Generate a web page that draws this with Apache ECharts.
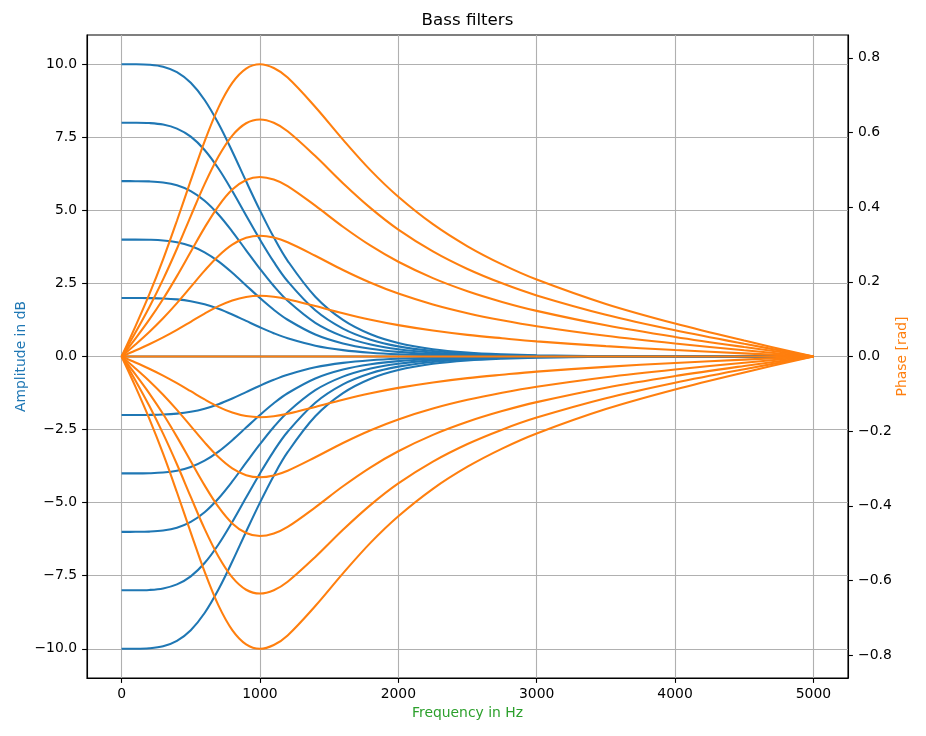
<!DOCTYPE html>
<html><head><meta charset="utf-8">
<script src="https://cdn.jsdelivr.net/npm/echarts@6/dist/echarts.min.js"></script>
<style>html,body{margin:0;padding:0;background:#fff}#c{width:926px;height:736px}</style>
</head><body><div id="c"></div><script>
// Frequency samples (Hz)
const freqHz = [0,100,200,300,400,500,600,700,800,900,1000,1100,1200,1400,1600,1800,2000,2250,2500,2750,3000,3500,4000,4500,5000];
const gains = [10,8,6,4,2,0,-2,-4,-6,-8,-10];

// Amplitude in dB, one array per gain
const ampG10 = [10.0,9.999,9.983,9.913,9.728,9.363,8.775,7.971,7.015,5.994,5.0,4.077,3.275,2.046,1.253,0.760,0.463,0.250,0.135,0.073,0.038,0.009,0.002,0.0,0.0];
const ampG8  = [8.0,7.999,7.987,7.935,7.797,7.521,7.067,6.432,5.660,4.823,4.0,3.236,2.576,1.582,0.955,0.574,0.347,0.187,0.101,0.054,0.028,0.007,0.001,0.0,0.0];
const ampG6  = [6.0,5.999,5.991,5.954,5.856,5.658,5.327,4.857,4.275,3.634,3.0,2.411,1.905,1.153,0.689,0.411,0.247,0.132,0.071,0.038,0.020,0.005,0.001,0.0,0.0];
const ampG4  = [4.0,4.0,3.994,3.971,3.908,3.780,3.565,3.255,2.865,2.432,2.0,1.599,1.257,0.752,0.446,0.265,0.159,0.085,0.046,0.024,0.013,0.003,0.001,0.0,0.0];
const ampG2  = [2.0,2.0,1.997,1.986,1.955,1.892,1.786,1.632,1.437,1.218,1.0,0.797,0.624,0.371,0.219,0.129,0.077,0.041,0.022,0.012,0.006,0.002,0.0,0.0,0.0];
const ampG0  = [0,0,0,0,0,0,0,0,0,0,0,0,0,0,0,0,0,0,0,0,0,0,0,0,0];
const ampGm2 = [-2.0,-2.0,-1.997,-1.986,-1.955,-1.892,-1.786,-1.632,-1.437,-1.218,-1.0,-0.797,-0.624,-0.371,-0.219,-0.129,-0.077,-0.041,-0.022,-0.012,-0.006,-0.002,0.0,0.0,0.0];
const ampGm4 = [-4.0,-4.0,-3.994,-3.971,-3.908,-3.780,-3.565,-3.255,-2.865,-2.432,-2.0,-1.599,-1.257,-0.752,-0.446,-0.265,-0.159,-0.085,-0.046,-0.024,-0.013,-0.003,-0.001,0.0,0.0];
const ampGm6 = [-6.0,-5.999,-5.991,-5.954,-5.856,-5.658,-5.327,-4.857,-4.275,-3.634,-3.0,-2.411,-1.905,-1.153,-0.689,-0.411,-0.247,-0.132,-0.071,-0.038,-0.020,-0.005,-0.001,0.0,0.0];
const ampGm8 = [-8.0,-7.999,-7.987,-7.935,-7.797,-7.521,-7.067,-6.432,-5.660,-4.823,-4.0,-3.236,-2.576,-1.582,-0.955,-0.574,-0.347,-0.187,-0.101,-0.054,-0.028,-0.007,-0.001,0.0,0.0];
const ampGm10= [-10.0,-9.999,-9.983,-9.913,-9.728,-9.363,-8.775,-7.971,-7.015,-5.994,-5.0,-4.077,-3.275,-2.046,-1.253,-0.760,-0.463,-0.250,-0.135,-0.073,-0.038,-0.009,-0.002,0.0,0.0];

// Phase in rad, one array per gain
const phG10 = [0,0.0807,0.1662,0.2602,0.3637,0.4716,0.5765,0.6668,0.7329,0.7711,0.7828,0.7727,0.7471,0.6683,0.5809,0.4986,0.4279,0.3544,0.2952,0.2467,0.2061,0.1407,0.0882,0.0426,0];
const phG8  = [0,0.0642,0.1321,0.2067,0.2887,0.3762,0.4617,0.5357,0.5918,0.6248,0.6350,0.6262,0.6035,0.5370,0.4642,0.3974,0.3399,0.2815,0.2344,0.1960,0.1637,0.1119,0.0702,0.0339,0];
const phG6  = [0,0.0479,0.0986,0.1541,0.2153,0.2805,0.3452,0.4030,0.4471,0.4728,0.4809,0.4740,0.4565,0.4040,0.3476,0.2968,0.2538,0.2099,0.1748,0.1462,0.1222,0.0835,0.0524,0.0253,0];
const phG4  = [0,0.0319,0.0655,0.1024,0.1430,0.1864,0.2300,0.2693,0.2996,0.3178,0.3235,0.3186,0.3061,0.2700,0.2316,0.1974,0.1685,0.1394,0.1161,0.0971,0.0811,0.0555,0.0348,0.0168,0];
const phG2  = [0,0.0159,0.0327,0.0511,0.0713,0.0930,0.1149,0.1348,0.1502,0.1596,0.1626,0.1600,0.1536,0.1351,0.1158,0.0985,0.0841,0.0695,0.0579,0.0488,0.0405,0.0277,0.0174,0.0084,0];
const phG0  = [0,0,0,0,0,0,0,0,0,0,0,0,0,0,0,0,0,0,0,0,0,0,0,0,0];
const phGm2 = [0,-0.0159,-0.0327,-0.0511,-0.0713,-0.0930,-0.1149,-0.1348,-0.1502,-0.1596,-0.1626,-0.1600,-0.1536,-0.1351,-0.1158,-0.0985,-0.0841,-0.0695,-0.0579,-0.0488,-0.0405,-0.0277,-0.0174,-0.0084,0];
const phGm4 = [0,-0.0319,-0.0655,-0.1024,-0.1430,-0.1864,-0.2300,-0.2693,-0.2996,-0.3178,-0.3235,-0.3186,-0.3061,-0.2700,-0.2316,-0.1974,-0.1685,-0.1394,-0.1161,-0.0971,-0.0811,-0.0555,-0.0348,-0.0168,0];
const phGm6 = [0,-0.0479,-0.0986,-0.1541,-0.2153,-0.2805,-0.3452,-0.4030,-0.4471,-0.4728,-0.4809,-0.4740,-0.4565,-0.4040,-0.3476,-0.2968,-0.2538,-0.2099,-0.1748,-0.1462,-0.1222,-0.0835,-0.0524,-0.0253,0];
const phGm8 = [0,-0.0642,-0.1321,-0.2067,-0.2887,-0.3762,-0.4617,-0.5357,-0.5918,-0.6248,-0.6350,-0.6262,-0.6035,-0.5370,-0.4642,-0.3974,-0.3399,-0.2815,-0.2344,-0.1960,-0.1637,-0.1119,-0.0702,-0.0339,0];
const phGm10= [0,-0.0807,-0.1662,-0.2602,-0.3637,-0.4716,-0.5765,-0.6668,-0.7329,-0.7711,-0.7828,-0.7727,-0.7471,-0.6683,-0.5809,-0.4986,-0.4279,-0.3544,-0.2952,-0.2467,-0.2061,-0.1407,-0.0882,-0.0426,0];

// Tick values
const xTicks = [0,1000,2000,3000,4000,5000];
const ampTicks = [-10,-7.5,-5,-2.5,0,2.5,5,7.5,10];
const phaseTicks = [-0.8,-0.6,-0.4,-0.2,0,0.2,0.4,0.6,0.8];

const ampCurves = [ampG10,ampG8,ampG6,ampG4,ampG2,ampG0,ampGm2,ampGm4,ampGm6,ampGm8,ampGm10];
const phaseCurves = [phG10,phG8,phG6,phG4,phG2,phG0,phGm2,phGm4,phGm6,phGm8,phGm10];

const BLUE = '#1f77b4', ORANGE = '#ff7f0e', GREEN = '#2ca02c';
const FONT = 'DejaVu Sans';
const fmt1 = v => (v < 0 ? '\u2212' : '') + Math.abs(v).toFixed(1);
const pairs = arr => freqHz.map((f, i) => [f, arr[i]]);

const series = [];
ampCurves.forEach((c, i) => series.push({
  name: 'Amplitude ' + gains[i] + ' dB', type: 'line', yAxisIndex: 0, data: pairs(c),
  showSymbol: false, smooth: 0.35, lineStyle: { color: BLUE, width: 2.08 }, itemStyle: { color: BLUE },
  silent: true, z: 2
}));
phaseCurves.forEach((c, i) => series.push({
  name: 'Phase ' + gains[i] + ' dB', type: 'line', yAxisIndex: 1, data: pairs(c),
  showSymbol: false, smooth: 0.35, lineStyle: { color: ORANGE, width: 2.08 }, itemStyle: { color: ORANGE },
  silent: true, z: 3
}));

const tickStyle = { color: '#000', width: 1.1 };
const chart = echarts.init(document.getElementById('c'), null, { renderer: 'canvas' });
chart.setOption({
  animation: false,
  backgroundColor: '#fff',
  title: {
    text: 'Bass filters', left: 421.6, top: 12, padding: 0,
    textStyle: { fontFamily: FONT, fontSize: 16.67, fontWeight: 'normal', color: '#000' }
  },
  grid: { left: 87, right: 78, top: 35, bottom: 58, show: true, borderColor: '#000', borderWidth: 1.1, backgroundColor: 'transparent' },
  xAxis: {
    type: 'value', min: -250, max: 5250,
    name: 'Frequency in Hz', nameLocation: 'middle', nameGap: 28,
    nameTextStyle: { color: GREEN, fontFamily: FONT, fontSize: 13.9 },
    axisLine: { show: true, onZero: false, lineStyle: { color: '#000', width: 1.1 } },
    axisTick: { show: true, length: 4.9, lineStyle: tickStyle, customValues: xTicks },
    axisLabel: { color: '#000', fontFamily: FONT, fontSize: 13.9, margin: 9, customValues: xTicks, formatter: v => String(Math.round(v)) },
    splitLine: { show: true, lineStyle: { color: '#b0b0b0', width: 1.1 } }
  },
  yAxis: [{
    type: 'value', min: -11, max: 11, position: 'left',
    name: 'Amplitude in dB', nameLocation: 'middle', nameRotate: 90, nameGap: 59, nameMoveOverlap: false,
    nameTextStyle: { color: BLUE, fontFamily: FONT, fontSize: 13.9 },
    axisLine: { show: true, onZero: false, lineStyle: { color: '#000', width: 1.1 } },
    axisTick: { show: true, length: 4.9, lineStyle: tickStyle, customValues: ampTicks },
    axisLabel: { color: '#000', fontFamily: FONT, fontSize: 13.9, margin: 10, customValues: ampTicks, formatter: fmt1 },
    splitLine: { show: true, lineStyle: { color: '#b0b0b0', width: 1.1 } }
  }, {
    type: 'value', min: -0.8612, max: 0.8612, position: 'right',
    name: 'Phase [rad]', nameLocation: 'middle', nameRotate: 90, nameGap: 47, nameMoveOverlap: false,
    nameTextStyle: { color: ORANGE, fontFamily: FONT, fontSize: 13.9 },
    axisLine: { show: true, onZero: false, lineStyle: { color: '#000', width: 1.1 } },
    axisTick: { show: true, length: 4.9, lineStyle: tickStyle, customValues: phaseTicks },
    axisLabel: { color: '#000', fontFamily: FONT, fontSize: 13.9, margin: 10, customValues: phaseTicks, formatter: fmt1 },
    splitLine: { show: false }
  }],
  series: series
});
</script></body></html>
